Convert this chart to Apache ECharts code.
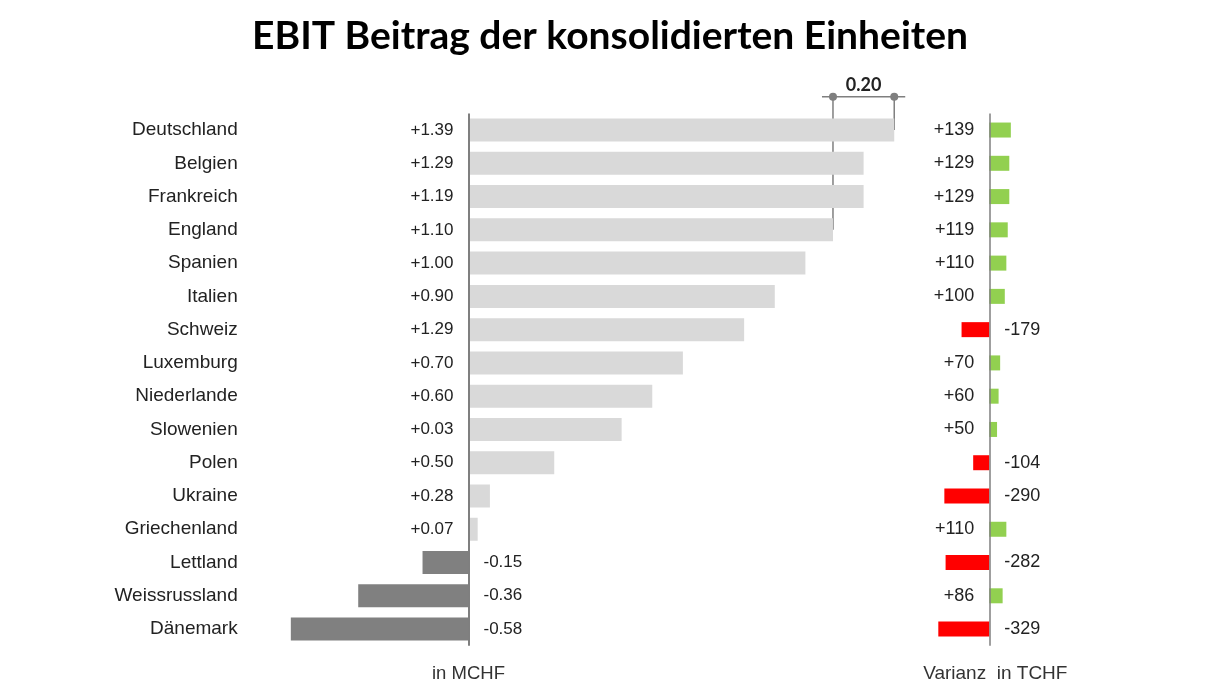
<!DOCTYPE html>
<html>
<head>
<meta charset="utf-8">
<script src="https://cdn.jsdelivr.net/npm/echarts@6/dist/echarts.min.js"></script>
<style>
  html, body { margin: 0; padding: 0; background: #fff; }
  #main { width: 1220px; height: 697px; }
</style>
</head>
<body>
<div id="main"></div>
<script>
var countries = ['Deutschland', 'Belgien', 'Frankreich', 'England', 'Spanien', 'Italien', 'Schweiz',
    'Luxemburg', 'Niederlande', 'Slowenien', 'Polen', 'Ukraine', 'Griechenland', 'Lettland',
    'Weissrussland', 'Dänemark'];
// bar lengths (as drawn)
var ebitBars = [1.39, 1.29, 1.29, 1.19, 1.10, 1.00, 0.90, 0.70, 0.60, 0.50, 0.28, 0.07, 0.03, -0.15, -0.36, -0.58];
// printed labels next to the bars
var ebitLabels = [1.39, 1.29, 1.19, 1.10, 1.00, 0.90, 1.29, 0.70, 0.60, 0.03, 0.50, 0.28, 0.07, -0.15, -0.36, -0.58];
var varianz = [139, 129, 129, 119, 110, 100, -179, 70, 60, 50, -104, -290, 110, -282, 86, -329];
// bracket between these two categories
var bracketFrom = 'England';
var bracketTo = 'Deutschland';

function signed(v, d) {
    return (v > 0 ? '+' : '') + v.toFixed(d);
}

var textCol = '#222';
var axisCol = '#7f7f7f';

var myChart = echarts.init(document.getElementById('main'));
var option = {
    animation: false,
    title: {
        text: 'EBIT Beitrag der konsolidierten Einheiten',
        left: 'center',
        top: 12,
        textStyle: {
            fontFamily: 'Lato',
            fontWeight: 'bold',
            fontSize: 39,
            color: '#000'
        }
    },
    grid: [
        { left: 284.7, width: 612.6, top: 113.4, height: 532.3 },
        { left: 927.3, width: 124, top: 113.4, height: 532.3 }
    ],
    xAxis: [
        { gridIndex: 0, type: 'value', min: -0.6, max: 1.4, show: false },
        { gridIndex: 1, type: 'value', min: -400, max: 400, show: false }
    ],
    yAxis: [
        {
            gridIndex: 0,
            type: 'category',
            inverse: true,
            data: countries,
            axisLine: { show: false },
            axisTick: { show: false },
            splitLine: { show: false },
            axisLabel: {
                margin: 47,
                fontFamily: 'Liberation Sans',
                fontSize: 19,
                color: textCol
            }
        },
        {
            gridIndex: 1,
            type: 'category',
            inverse: true,
            data: countries,
            show: false
        }
    ],
    series: [
        {
            name: 'EBIT',
            type: 'bar',
            xAxisIndex: 0,
            yAxisIndex: 0,
            barWidth: 23,
            data: ebitBars.map(function (v) {
                return {
                    value: v,
                    itemStyle: { color: v < 0 ? '#808080' : '#d9d9d9' },
                    label: { position: v < 0 ? 'right' : 'left' }
                };
            }),
            label: {
                show: true,
                distance: 15,
                fontFamily: 'Liberation Sans',
                fontSize: 17,
                color: textCol,
                formatter: function (p) { return signed(ebitLabels[p.dataIndex], 2); }
            },
            markLine: {
                silent: true,
                symbol: 'none',
                label: { show: false },
                lineStyle: { color: axisCol, width: 2, type: 'solid' },
                data: [{ xAxis: 0 }]
            }
        },
        {
            name: 'Varianz',
            type: 'bar',
            xAxisIndex: 1,
            yAxisIndex: 1,
            barWidth: 15,
            data: varianz.map(function (v) {
                return {
                    value: v,
                    itemStyle: { color: v < 0 ? '#ff0000' : '#92d050' },
                    label: { position: v < 0 ? 'right' : 'left' }
                };
            }),
            label: {
                show: true,
                distance: 15,
                fontFamily: 'Liberation Sans',
                fontSize: 18,
                color: textCol,
                formatter: function (p) { return signed(varianz[p.dataIndex], 0); }
            },
            markLine: {
                silent: true,
                symbol: 'none',
                label: { show: false },
                lineStyle: { color: axisCol, width: 1.5, type: 'solid' },
                data: [{ xAxis: 0 }]
            }
        }
    ]
};
myChart.setOption(option);

// bracket + footer texts, placed from the data via the chart's own scales
var iFrom = countries.indexOf(bracketFrom);
var iTo = countries.indexOf(bracketTo);
var pFrom = myChart.convertToPixel({ gridIndex: 0 }, [ebitBars[iFrom], iFrom]);
var pTo = myChart.convertToPixel({ gridIndex: 0 }, [ebitBars[iTo], iTo]);
var rowH = myChart.convertToPixel({ gridIndex: 0 }, [0, 1])[1] - myChart.convertToPixel({ gridIndex: 0 }, [0, 0])[1];
var bracketY = Math.min(pFrom[1], pTo[1]) - rowH;
var zero0 = myChart.convertToPixel({ gridIndex: 0 }, [0, 0])[0];
var zero1 = myChart.convertToPixel({ gridIndex: 1 }, [0, 0])[0];
var bottomY = myChart.convertToPixel({ gridIndex: 0 }, [0, countries.length - 1])[1] + rowH * 1.35;
var diff = Math.abs(ebitBars[iTo] - ebitBars[iFrom]).toFixed(2);
var lineStyle = { stroke: axisCol, lineWidth: 1.5 };

myChart.setOption({
    graphic: [
        { type: 'line', shape: { x1: Math.min(pFrom[0], pTo[0]) - 11, y1: bracketY, x2: Math.max(pFrom[0], pTo[0]) + 11, y2: bracketY }, style: lineStyle, silent: true },
        { type: 'line', shape: { x1: pFrom[0], y1: bracketY, x2: pFrom[0], y2: pFrom[1] }, style: lineStyle, silent: true },
        { type: 'line', shape: { x1: pTo[0], y1: bracketY, x2: pTo[0], y2: pTo[1] }, style: lineStyle, silent: true },
        { type: 'circle', shape: { cx: pFrom[0], cy: bracketY, r: 4 }, style: { fill: axisCol }, silent: true },
        { type: 'circle', shape: { cx: pTo[0], cy: bracketY, r: 4 }, style: { fill: axisCol }, silent: true },
        {
            type: 'text', x: (pFrom[0] + pTo[0]) / 2, y: bracketY - 12, silent: true,
            style: { text: diff, align: 'center', verticalAlign: 'middle', font: 'bold 18px Lato', fill: textCol }
        },
        {
            type: 'text', x: zero0, y: bottomY, silent: true,
            style: { text: 'in MCHF', align: 'center', verticalAlign: 'middle', font: '18.5px "Liberation Sans"', fill: '#333' }
        },
        {
            type: 'text', x: zero1 + 6, y: bottomY, silent: true,
            style: { text: 'Varianz  in TCHF', align: 'center', verticalAlign: 'middle', font: '19px "Liberation Sans"', fill: '#333' }
        }
    ]
});
</script>
</body>
</html>
